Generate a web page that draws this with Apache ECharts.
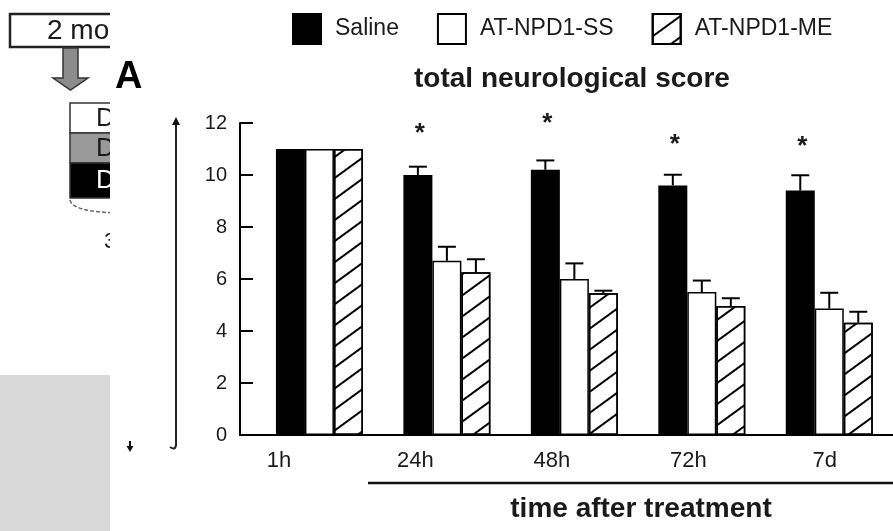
<!DOCTYPE html>
<html>
<head>
<meta charset="utf-8">
<script src="https://cdn.jsdelivr.net/npm/echarts@6/dist/echarts.min.js"></script>
<style>
html, body { margin: 0; padding: 0; background: #fff; }
#chart { width: 893px; height: 531px; }
</style>
</head>
<body>
<div id="chart"></div>
<script>
// data
var timePoints = ['1h', '24h', '48h', '72h', '7d'];
var salineScore = [11, 10.0, 10.2, 9.6, 9.4];
var salineErr   = [null, 0.32, 0.36, 0.41, 0.59];
var ssScore     = [11, 6.7, 6.0, 5.5, 4.87];
var ssErr       = [null, 0.54, 0.6, 0.44, 0.6];
var meScore     = [11, 6.26, 5.45, 4.96, 4.32];
var meErr       = [null, 0.5, 0.1, 0.3, 0.42];
// height of the significance asterisk above the saline bar
var starLevel   = [null, 11.8, 12.2, 11.4, 11.3];

var FONT = "'Liberation Sans', Arial, sans-serif";
var BAR_W = 29;
var INK = '#1a1a1a';

var chart = echarts.init(document.getElementById('chart'));

function errRows (vals, errs, k) {
    return vals.map(function (v, i) { return [i, v, errs[i], k]; });
}

function renderErr (params, api) {
    var e = api.value(2);
    if (!(e > 0)) return;
    var i = api.value(0), v = api.value(1), k = api.value(3);
    var base = api.coord([i, v]);
    var top = api.coord([i, v + e]);
    var x = base[0] + k * BAR_W;
    return {
        type: 'group',
        children: [
            { type: 'line', shape: { x1: x, y1: base[1], x2: x, y2: top[1] }, style: { stroke: '#000', lineWidth: 2 } },
            { type: 'line', shape: { x1: x - 9, y1: top[1], x2: x + 9, y2: top[1] }, style: { stroke: '#000', lineWidth: 2 } }
        ]
    };
}

function renderStar (params, api) {
    var y = api.value(1);
    if (!(y > 0)) return;
    var p = api.coord([api.value(0), y]);
    return {
        type: 'text',
        x: p[0] - BAR_W + 2,
        y: p[1] + 6,
        style: { text: '*', font: 'bold 26px ' + FONT, fill: INK, align: 'center', verticalAlign: 'middle' }
    };
}

var barBorder = { borderColor: '#000', borderWidth: 1.5 };

var option = {
    backgroundColor: '#fff',
    animation: false,
    textStyle: { fontFamily: FONT },
    title: {
        text: 'total neurological score',
        left: 409,
        top: 60,
        textStyle: { fontSize: 28, fontWeight: 'bold', color: INK, fontFamily: FONT }
    },
    legend: {
        data: ['Saline', 'AT-NPD1-SS', 'AT-NPD1-ME'],
        left: 287,
        top: 8,
        icon: 'rect',
        itemWidth: 28,
        itemHeight: 30,
        itemGap: 38,
        textStyle: { fontSize: 23, color: INK, fontFamily: FONT, padding: [0, 0, 0, 9] }
    },
    grid: [
        // frame: y axis and baseline
        { left: 240, right: -20, top: 123, bottom: 96 },
        // bars
        { left: 255.7, right: -14.5, top: 123, bottom: 96 },
        // category labels
        { left: 210.7, right: -17, top: 123, bottom: 96 }
    ],
    xAxis: [
        {
            gridIndex: 0, type: 'category', data: timePoints,
            axisLine: { lineStyle: { color: '#000', width: 2 } },
            axisTick: { show: false }, axisLabel: { show: false }
        },
        { gridIndex: 1, type: 'category', data: timePoints, show: false },
        {
            gridIndex: 2, type: 'category', data: timePoints,
            axisLine: { show: false }, axisTick: { show: false },
            axisLabel: { fontSize: 22, color: INK, margin: 15, fontFamily: FONT }
        }
    ],
    yAxis: [
        {
            gridIndex: 0, type: 'value', min: 0, max: 12, interval: 2,
            axisLine: { show: true, lineStyle: { color: '#000', width: 2 } },
            axisTick: { show: true, inside: true, length: 13, lineStyle: { color: '#000', width: 2 } },
            axisLabel: { fontSize: 20, color: INK, margin: 13, fontFamily: FONT },
            splitLine: { show: false }
        },
        { gridIndex: 1, type: 'value', min: 0, max: 12, show: false },
        { gridIndex: 2, type: 'value', min: 0, max: 12, show: false }
    ],
    series: [
        {
            name: 'Saline', type: 'bar', xAxisIndex: 1, yAxisIndex: 1,
            barWidth: BAR_W, barGap: '0%',
            itemStyle: Object.assign({ color: '#000' }, barBorder),
            data: salineScore
        },
        {
            name: 'AT-NPD1-SS', type: 'bar', xAxisIndex: 1, yAxisIndex: 1,
            barWidth: BAR_W, barGap: '0%',
            itemStyle: Object.assign({ color: '#fff' }, barBorder),
            data: ssScore
        },
        {
            name: 'AT-NPD1-ME', type: 'bar', xAxisIndex: 1, yAxisIndex: 1,
            barWidth: BAR_W, barGap: '0%',
            itemStyle: Object.assign({
                color: '#fff',
                decal: {
                    symbol: 'rect', symbolSize: 1, color: '#000',
                    dashArrayX: [1, 0], dashArrayY: [1.3, 14.5],
                    rotation: -0.63
                }
            }, barBorder),
            data: meScore
        },
        {
            type: 'custom', xAxisIndex: 1, yAxisIndex: 1, z: 5,
            renderItem: renderErr,
            data: errRows(salineScore, salineErr, -1)
                .concat(errRows(ssScore, ssErr, 0))
                .concat(errRows(meScore, meErr, 1))
        },
        {
            type: 'custom', xAxisIndex: 1, yAxisIndex: 1, z: 5,
            renderItem: renderStar,
            data: starLevel.map(function (s, i) { return [i, s]; })
        }
    ],
    graphic: [
        // fragments of the neighbouring panel on the left
        { type: 'rect', z: -2, shape: { x: 10, y: 14, width: 130, height: 33 }, style: { fill: '#fff', stroke: '#222', lineWidth: 2.5 } },
        { type: 'text', z: -2, x: 47, y: 31, style: { text: '2 months', font: '28px ' + FONT, fill: INK, verticalAlign: 'middle' } },
        { type: 'polygon', z: -2, shape: { points: [[63, 48], [78, 48], [78, 78], [88, 78], [70.5, 90], [53, 78], [63, 78]] }, style: { fill: '#8c8c8c', stroke: '#333', lineWidth: 1.5 } },
        { type: 'rect', z: -2, shape: { x: 70, y: 103, width: 80, height: 30 }, style: { fill: '#fff', stroke: '#333', lineWidth: 1.5 } },
        { type: 'rect', z: -2, shape: { x: 70, y: 133, width: 80, height: 30 }, style: { fill: '#999', stroke: '#333', lineWidth: 1.5 } },
        { type: 'rect', z: -2, shape: { x: 70, y: 163, width: 80, height: 35 }, style: { fill: '#000', stroke: '#333', lineWidth: 1.5 } },
        { type: 'text', z: -2, x: 96, y: 119, style: { text: 'D', font: '26px ' + FONT, fill: INK, verticalAlign: 'middle' } },
        { type: 'text', z: -2, x: 96, y: 149, style: { text: 'D', font: '26px ' + FONT, fill: INK, verticalAlign: 'middle' } },
        { type: 'text', z: -2, x: 96, y: 181, style: { text: 'D', font: '26px ' + FONT, fill: '#fff', verticalAlign: 'middle' } },
        { type: 'bezierCurve', z: -2, shape: { x1: 70, y1: 200, cpx1: 72, cpy1: 212, x2: 120, y2: 213 }, style: { fill: 'none', stroke: '#666', lineWidth: 1.5, lineDash: [4, 2] } },
        { type: 'text', z: -2, x: 104, y: 242, style: { text: '3', font: '22px ' + FONT, fill: INK, verticalAlign: 'middle' } },
        { type: 'rect', z: -2, shape: { x: 0, y: 375, width: 110, height: 156 }, style: { fill: '#d8d8d8' } },
        // white panel of this chart
        { type: 'rect', z: -1, shape: { x: 110, y: 0, width: 783, height: 531 }, style: { fill: '#fff' } },
        { type: 'text', z: 3, x: 115, y: 78, style: { text: 'A', font: 'bold 38px ' + FONT, fill: '#000', verticalAlign: 'middle' } },
        // long arrow beside the y axis
        { type: 'line', z: 3, shape: { x1: 176, y1: 123, x2: 176, y2: 446 }, style: { stroke: '#222', lineWidth: 2 } },
        { type: 'polygon', z: 3, shape: { points: [[172, 125], [176, 117], [180, 125]] }, style: { fill: '#111' } },
        { type: 'bezierCurve', z: 3, shape: { x1: 176, y1: 444, cpx1: 176, cpy1: 451, x2: 170, y2: 447 }, style: { fill: 'none', stroke: '#222', lineWidth: 2 } },
        // small down arrow
        { type: 'line', z: 3, shape: { x1: 130, y1: 441, x2: 130, y2: 447 }, style: { stroke: '#111', lineWidth: 2 } },
        { type: 'polygon', z: 3, shape: { points: [[126.5, 446], [133.5, 446], [130, 452]] }, style: { fill: '#111' } },
        // bracket over the post-treatment time points and its caption
        { type: 'line', z: 3, shape: { x1: 368, y1: 483, x2: 893, y2: 483 }, style: { stroke: '#111', lineWidth: 2.5 } },
        { type: 'text', z: 3, x: 641, y: 509, style: { text: 'time after treatment', font: 'bold 28px ' + FONT, fill: INK, align: 'center', verticalAlign: 'middle' } }
    ]
};

chart.setOption(option);
window.addEventListener('resize', function () { chart.resize(); });
</script>
</body>
</html>
